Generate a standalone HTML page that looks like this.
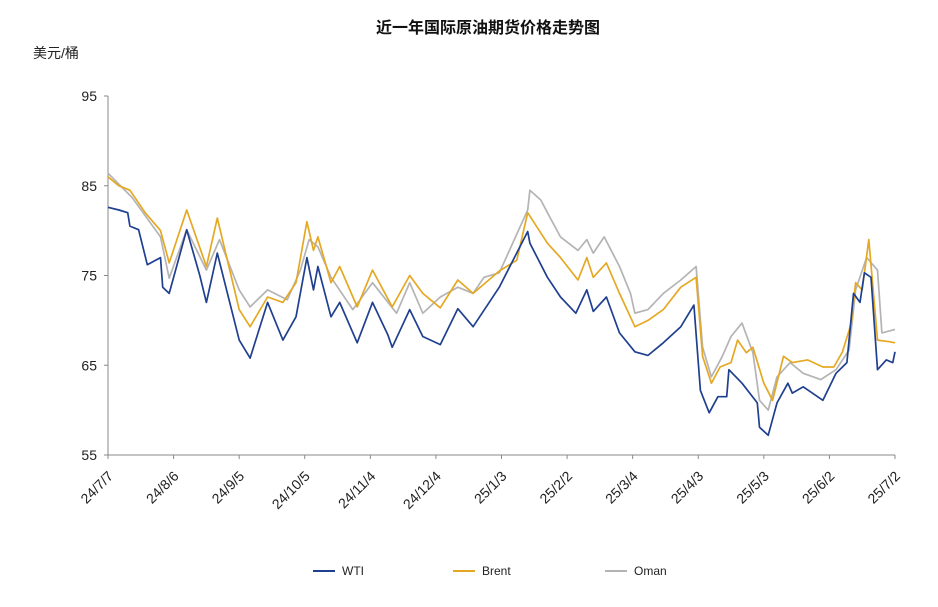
<!DOCTYPE html>
<html><head><meta charset="utf-8"><style>
body{margin:0;background:#fff;}
svg text{font-family:"Liberation Sans","Noto Sans CJK SC",sans-serif;}
</style></head><body>
<svg width="938" height="602" xmlns="http://www.w3.org/2000/svg" id="chart">
<rect width="938" height="602" fill="#fff"/>
<text x="488" y="33" text-anchor="middle" font-size="16" font-weight="bold" fill="#111">近一年国际原油期货价格走势图</text>
<text x="33" y="58" font-size="14" fill="#222">美元/桶</text>
<g id="axes"></g>
<g id="series"></g>
<g>
<line x1="313" y1="571" x2="335" y2="571" stroke="#1f3f8f" stroke-width="2"/>
<text x="342" y="575" font-size="12" fill="#222" font-family="Liberation Mono">WTI</text>
<line x1="453" y1="571" x2="475" y2="571" stroke="#e5a823" stroke-width="2"/>
<text x="482" y="575" font-size="12" fill="#222" font-family="Liberation Mono">Brent</text>
<line x1="605" y1="571" x2="627" y2="571" stroke="#b4b4b4" stroke-width="2"/>
<text x="634" y="575" font-size="12" fill="#222" font-family="Liberation Mono">Oman</text>
</g>
</svg>
<script>
const yTicks=[55,65,75,85,95];
const xLabels=["24/7/7","24/8/6","24/9/5","24/10/5","24/11/4","24/12/4","25/1/3","25/2/2","25/3/4","25/4/3","25/5/3","25/6/2","25/7/2"];
const wtiDays=[0,5,9,10,14,18,24,25,28,36,42,45,50,60,65,73,80,86,91,94,96,102,106,114,121,128,130,138,144,152,160,167,179,192,193,201,207,214,219,222,228,234,241,247,254,262,268,271,275,279,283,284,290,297,298,302,306,311,313,318,327,333,338,341,344,346,349,352,356,359,360];
const wti=[82.6,82.3,82.0,80.5,80.1,76.2,77,73.7,73,80.1,75,72,77.5,67.8,65.8,72,67.8,70.4,77,73.4,76,70.4,72,67.5,72,68.4,67,71.2,68.2,67.3,71.3,69.3,73.7,79.9,78.6,74.8,72.6,70.8,73.4,71,72.6,68.6,66.5,66.1,67.5,69.3,71.7,62.2,59.7,61.5,61.5,64.5,63,60.8,58.1,57.2,60.8,63,61.9,62.6,61.1,64.1,65.3,73,72,75.3,74.8,64.5,65.6,65.3,66.5];
const brentDays=[0,5,10,17,24,28,36,45,50,60,65,73,80,86,91,94,96,102,106,114,121,130,138,144,152,160,167,179,187,192,201,207,215,219,222,228,234,241,247,254,262,269,272,276,280,285,288,292,295,300,304,309,313,320,327,332,336,340,342,345,348,352,358,360];
const brent=[86,85,84.5,82,80,76.4,82.3,76,81.4,71.2,69.3,72.6,72,74.2,81,77.8,79.3,74.2,76,71.5,75.6,71.5,75,73,71.4,74.5,73,75.5,76.7,82,78.6,77,74.5,77,74.8,76.4,73,69.3,70,71.2,73.7,74.8,66,63,64.8,65.3,67.8,66.4,67,63,61.1,66,65.3,65.6,64.8,64.8,66.5,69.7,74.2,73.4,79,67.8,67.6,67.5];
const omanDays=[0,11,24,28,36,45,51,60,65,73,82,88,92,96,102,112,121,132,138,144,152,160,167,172,179,192,193,198,201,207,215,219,222,227,234,239,241,247,254,262,269,272,276,281,285,290,295,298,302,306,312,318,326,333,339,342,347,352,354,360];
const oman=[86.4,83.7,79.3,74.7,80.1,75.6,79,73.4,71.5,73.4,72.3,75.6,79,78.2,74.8,71.2,74.2,70.8,74.2,70.8,72.6,73.7,73,74.8,75.3,82.3,84.5,83.4,82,79.3,77.8,79,77.5,79.3,76,73,70.8,71.2,73,74.5,76,67,63.7,66,68.2,69.7,66.4,61.1,60,63.7,65.3,64.1,63.4,64.5,66.7,73.4,77,75.6,68.6,69];

const X0=108,X1=895,Y0=455,Y1=96,DMAX=360,VMIN=55,VMAX=95;
const xs=d=>X0+(X1-X0)*d/DMAX;
const ys=v=>Y0-(Y0-Y1)*(v-VMIN)/(VMAX-VMIN);
const NS="http://www.w3.org/2000/svg";
const axes=document.getElementById('axes');
function mk(tag,attrs,parent){const e=document.createElementNS(NS,tag);for(const k in attrs)e.setAttribute(k,attrs[k]);parent.appendChild(e);return e;}
const ya=mk('line',{x1:X0,y1:Y1,x2:X0,y2:Y0,stroke:'#888','stroke-width':1},axes);


const xa=mk('line',{x1:X0,y1:Y0,x2:X1,y2:Y0,stroke:'#888','stroke-width':1},axes);


yTicks.forEach(v=>{
  mk('line',{x1:X0-4,y1:ys(v),x2:X0,y2:ys(v),stroke:'#888'},axes);
  const t=mk('text',{x:97,y:ys(v)+5,'text-anchor':'end','font-size':14,fill:'#222'},axes);
  t.textContent=v;
  
  
});
xLabels.forEach((l,i)=>{
  const x=X0+(X1-X0)*i/(xLabels.length-1);
  mk('line',{x1:x,y1:Y0,x2:x,y2:Y0+4,stroke:'#888'},axes);
  const t=mk('text',{x:x+6,y:Y0+22,'text-anchor':'end','font-size':14,fill:'#222',transform:`rotate(-45 ${x+6} ${Y0+22})`},axes);
  t.textContent=l;
  
  
});
const sg=document.getElementById('series');
function drawLine(days,vals,color,name){
  const p=mk('polyline',{points:days.map((d,i)=>xs(d).toFixed(1)+','+ys(vals[i]).toFixed(1)).join(' '),fill:'none',stroke:color,'stroke-width':1.7,'stroke-linejoin':'round'},sg);
  
  
}
drawLine(omanDays,oman,'#b4b4b4','oman-line');
drawLine(brentDays,brent,'#e5a823','brent-line');
drawLine(wtiDays,wti,'#1f3f8f','wti-line');
</script>
</body></html>
